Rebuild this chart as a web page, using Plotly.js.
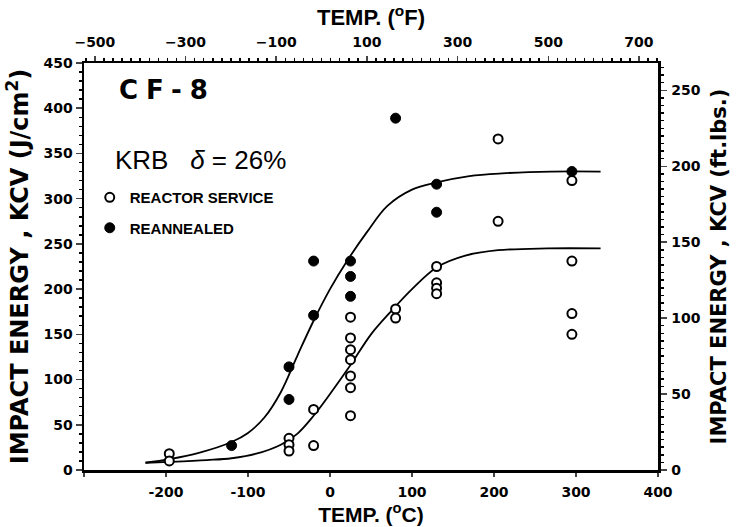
<!DOCTYPE html>
<html>
<head>
<meta charset="utf-8">
<script src="https://cdn.plot.ly/plotly-3.0.1.min.js"></script>
<style>html,body{margin:0;padding:0;background:#fff;}#chart{width:740px;height:527px;}</style>
</head>
<body>
<div id="chart"></div>
<script>
// Reactor service (open circles): temperature (°C), KCV (J/cm²)
const serviceT = [-196, -196, -50, -50, -50, -20, -20, 25, 25, 25, 25, 25, 25, 25, 80, 80, 130, 130, 130, 130, 205, 205, 295, 295, 295, 295];
const serviceE = [18, 10, 35, 28, 21, 67, 27, 169, 146, 133, 122, 104, 91, 60, 178, 168, 225, 207, 201, 195, 366, 275, 320, 231, 173, 150];
// Reannealed (filled circles)
const annealT = [-120, -50, -50, -20, -20, 25, 25, 25, 80, 130, 130, 295];
const annealE = [27, 114, 78, 231, 171, 231, 214, 192, 389, 316, 285, 330];
// Fitted curves
const upperCurveT = [-225, -196, -160, -120, -100, -80, -60, -40, -20, 0, 20, 45, 70, 100, 130, 170, 210, 270, 330];
const upperCurveE = [8, 12, 19, 31, 41, 58, 86, 126, 165, 200, 230, 263, 292, 310, 318, 325, 328, 330, 330];
const lowerCurveT = [-225, -196, -150, -120, -90, -60, -40, -20, 0, 25, 50, 75, 100, 130, 165, 205, 265, 330];
const lowerCurveE = [8, 9, 11, 13, 18, 28, 40, 60, 84, 116, 150, 176, 200, 224, 237, 243, 245, 245];
// Axis ticks
const celsiusTicks = [-300, -200, -100, 0, 100, 200, 300, 400];
const celsiusText = ['', '-200', '-100', '0', '100', '200', '300', '400'];
const fahrenheitTicks = [-500, -300, -100, 100, 300, 500, 700];
const jTicks = [0, 50, 100, 150, 200, 250, 300, 350, 400, 450];
const ftlbTicks = [0, 50, 100, 150, 200, 250];

const tickFont = {family: 'DejaVu Sans', size: 14, color: '#000', weight: 'bold'};

const traces = [
  {x: upperCurveT, y: upperCurveE, mode: 'lines', line: {color: '#000', width: 1.8, shape: 'spline', smoothing: 1}, showlegend: false, hoverinfo: 'skip'},
  {x: lowerCurveT, y: lowerCurveE, mode: 'lines', line: {color: '#000', width: 1.8, shape: 'spline', smoothing: 1}, showlegend: false, hoverinfo: 'skip'},
  {x: serviceT, y: serviceE, mode: 'markers', name: 'REACTOR SERVICE', legendgroup: 'a',
   marker: {symbol: 'circle', size: 9, color: '#fff', line: {color: '#000', width: 2}}},
  {x: annealT, y: annealE, mode: 'markers', name: 'REANNEALED', legendgroup: 'b',
   marker: {symbol: 'circle', size: 10, color: '#000', line: {color: '#000', width: 1}}},
  // empty traces so the secondary (°F and ft.lbs.) axes are drawn
  {x: [], y: [], xaxis: 'x2', yaxis: 'y', mode: 'markers', showlegend: false, hoverinfo: 'skip'},
  {x: [], y: [], xaxis: 'x', yaxis: 'y2', mode: 'markers', showlegend: false, hoverinfo: 'skip'}
];

const layout = {
  width: 740, height: 527,
  margin: {l: 84, r: 82, t: 63, b: 57},
  paper_bgcolor: '#fff', plot_bgcolor: '#fff',
  showlegend: true,
  legend: {x: 0.01, y: 0.71, xanchor: 'left', yanchor: 'top', bgcolor: 'rgba(0,0,0,0)',
    font: {family: 'Liberation Sans Narrow, Liberation Sans', size: 15, color: '#000', weight: 'bold'},
    traceorder: 'grouped', tracegroupgap: 8, itemwidth: 30},
  xaxis: {range: [-300, 400], tickvals: celsiusTicks, ticktext: celsiusText, ticks: 'outside', ticklen: 4, tickwidth: 1.5,
    showline: true, linewidth: 2.5, linecolor: '#000', showgrid: false, zeroline: false, tickfont: tickFont,
    ticklabelstandoff: 4,
    title: {text: 'TEMP. (<sup>o</sup>C)', font: {family: 'Liberation Sans', size: 21, color: '#000', weight: 'bold'}, standoff: 1}},
  xaxis2: {overlaying: 'x', side: 'top', anchor: 'y', range: [-524, 742], tickvals: fahrenheitTicks,
    ticks: 'outside', ticklen: 5, tickwidth: 1.5, minor: {dtick: 20, ticks: 'outside', ticklen: 3, tickcolor: '#000'},
    showline: true, linewidth: 2.5, linecolor: '#000', showgrid: false, zeroline: false, tickfont: tickFont,
    ticklabelstandoff: 3,
    title: {text: 'TEMP. (<sup>o</sup>F)', font: {family: 'Liberation Sans', size: 22, color: '#000', weight: 'bold'}, standoff: 2}},
  yaxis: {range: [0, 450], tickvals: jTicks, ticks: 'outside', ticklen: 6, tickwidth: 1.5,
    minor: {dtick: 10, ticks: 'outside', ticklen: 3, tickcolor: '#000'},
    showline: true, linewidth: 2.5, linecolor: '#000', showgrid: false, zeroline: false, tickfont: tickFont,
    ticklabelstandoff: 0,
    title: {text: 'IMPACT ENERGY , KCV (J/cm<sup>2</sup>)', font: {family: 'DejaVu Sans', size: 24, color: '#000', weight: 'bold'}, standoff: 8}},
  yaxis2: {overlaying: 'y', side: 'right', anchor: 'x', range: [0, 268], tickvals: ftlbTicks, ticks: 'outside', ticklen: 6, tickwidth: 1.5,
    minor: {dtick: 5, ticks: 'outside', ticklen: 3, tickcolor: '#000'},
    showline: true, linewidth: 2.5, linecolor: '#000', showgrid: false, zeroline: false, tickfont: tickFont,
    ticklabelstandoff: 2,
    title: {text: 'IMPACT ENERGY , KCV (ft.lbs.)', font: {family: 'DejaVu Sans', size: 21, color: '#000', weight: 'bold'}, standoff: 12}},
  annotations: [
    {xref: 'paper', yref: 'paper', x: 0.057, y: 0.934, xanchor: 'left', yanchor: 'middle', showarrow: false,
     text: '<span style="letter-spacing:8px">CF-8</span>', font: {family: 'DejaVu Sans', size: 26, color: '#000', weight: 'bold'}},
    {xref: 'paper', yref: 'paper', x: 0.05, y: 0.762, xanchor: 'left', yanchor: 'middle', showarrow: false,
     text: 'KRB&nbsp;&nbsp;&nbsp;<i>δ</i> = 26%', font: {family: 'Liberation Sans', size: 26, color: '#000'}}
  ]
};

Plotly.newPlot('chart', traces, layout, {displayModeBar: false, staticPlot: true});
</script>
</body>
</html>
